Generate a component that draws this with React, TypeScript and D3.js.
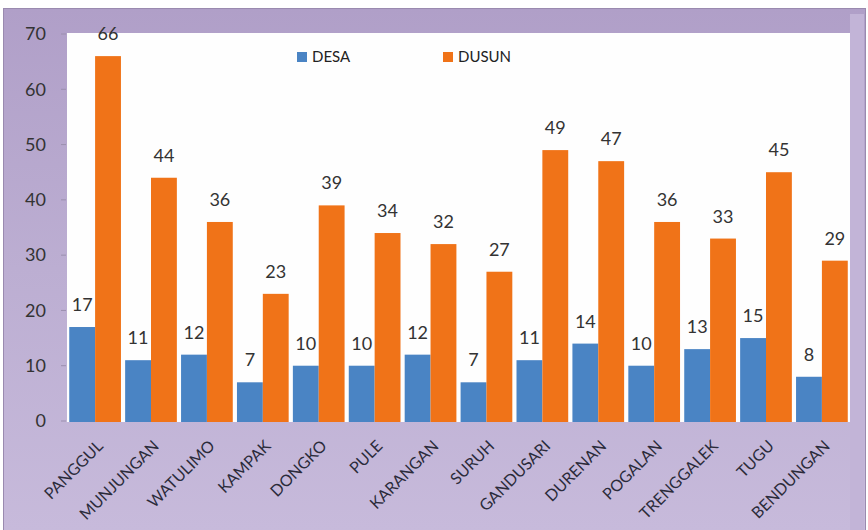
import React from 'react';
import * as d3 from 'd3';

const categories = [
  'PANGGUL', 'MUNJUNGAN', 'WATULIMO', 'KAMPAK', 'DONGKO', 'PULE', 'KARANGAN',
  'SURUH', 'GANDUSARI', 'DURENAN', 'POGALAN', 'TRENGGALEK', 'TUGU', 'BENDUNGAN',
];
const desa = [17, 11, 12, 7, 10, 10, 12, 7, 11, 14, 10, 13, 15, 8];
const dusun = [66, 44, 36, 23, 39, 34, 32, 27, 49, 47, 36, 33, 45, 29];
const seriesNames = ['DESA', 'DUSUN'];
const yTicks = [0, 10, 20, 30, 40, 50, 60, 70];

const W = 868;
const H = 530;
const plot = { left: 67, right: 850, top: 33, bottom: 421 };
const colors = ['#4a84c4', '#f07318'];
const font = 'Lato, "Open Sans", sans-serif';

export default function App() {
  const x = d3.scaleBand<string>()
    .domain(categories)
    .range([plot.left, plot.right])
    .paddingInner(0.075)
    .paddingOuter(0.04);
  const inner = d3.scaleBand<string>()
    .domain(seriesNames)
    .range([0, x.bandwidth()]);
  const y = d3.scaleLinear().domain([0, 70]).range([plot.bottom, plot.top + 1]);

  const series = [desa, dusun];

  return (
    <svg width={W} height={H} style={{ position: 'absolute', left: 0, top: 0 }}>
      <defs>
        <linearGradient id="frame" x1="0" y1="0" x2="0" y2="1">
          <stop offset="0" stopColor="#b09fc8" />
          <stop offset="0.5" stopColor="#bcaed2" />
          <stop offset="1" stopColor="#c7badb" />
        </linearGradient>
      </defs>
      <rect x={0} y={0} width={W} height={H} fill="#ffffff" />
      {/* purple frame */}
      <rect x={3} y={8} width={863} height={H - 8} fill="url(#frame)" />
      <line x1={3.5} x2={3.5} y1={8} y2={H} stroke="#9a8aaf" />
      <line x1={3} x2={866} y1={8.5} y2={8.5} stroke="#9a8aaf" />
      <line x1={865.5} x2={865.5} y1={8} y2={H} stroke="#9a8aaf" />
      <rect x={plot.right} y={14} width={14} height={H - 14} fill="#c2b4d7" />
      {/* plot area */}
      <rect x={plot.left} y={plot.top} width={plot.right - plot.left} height={plot.bottom - plot.top + 1} fill="#fefefe" />

      {/* y axis */}
      {yTicks.map(t => (
        <g key={t}>
          <line x1={61} x2={66} y1={y(t)} y2={y(t)} stroke="#9b8fae" strokeWidth={1} />
          <text x={46} y={y(t)} dy="0.35em" textAnchor="end" fontFamily={font} fontSize={18} fill="#333">
            {t}
          </text>
        </g>
      ))}

      {/* bars */}
      {categories.map((c, i) => (
        <g key={c} transform={`translate(${x(c)},0)`}>
          {series.map((s, j) => {
            const bx = inner(seriesNames[j]) || 0;
            const bw = inner.bandwidth();
            return (
              <g key={j}>
                <rect x={bx} y={y(s[i])} width={bw} height={plot.bottom - y(s[i]) + 1} fill={colors[j]} />
                <text x={bx + bw / 2} y={y(s[i]) - 16} textAnchor="middle" fontFamily={font} fontSize={18} fill="#333">
                  {s[i]}
                </text>
              </g>
            );
          })}
        </g>
      ))}

      {/* x labels */}
      {categories.map(c => {
        const cx = (x(c) || 0) + x.bandwidth() / 2 + 9;
        const cy = 447;
        return (
          <text key={c} x={cx} y={cy} transform={`rotate(-45,${cx},${cy})`} textAnchor="end"
            fontFamily={font} fontSize={16} fill="#2b2b3a">
            {c}
          </text>
        );
      })}

      {/* legend */}
      {seriesNames.map((n, j) => {
        const lx = j === 0 ? 297 : 443;
        return (
          <g key={n}>
            <rect x={lx} y={52} width={10} height={10} fill={colors[j]} />
            <text x={lx + 15} y={62} fontFamily={font} fontSize={15} fill="#222">{n}</text>
          </g>
        );
      })}
    </svg>
  );
}
